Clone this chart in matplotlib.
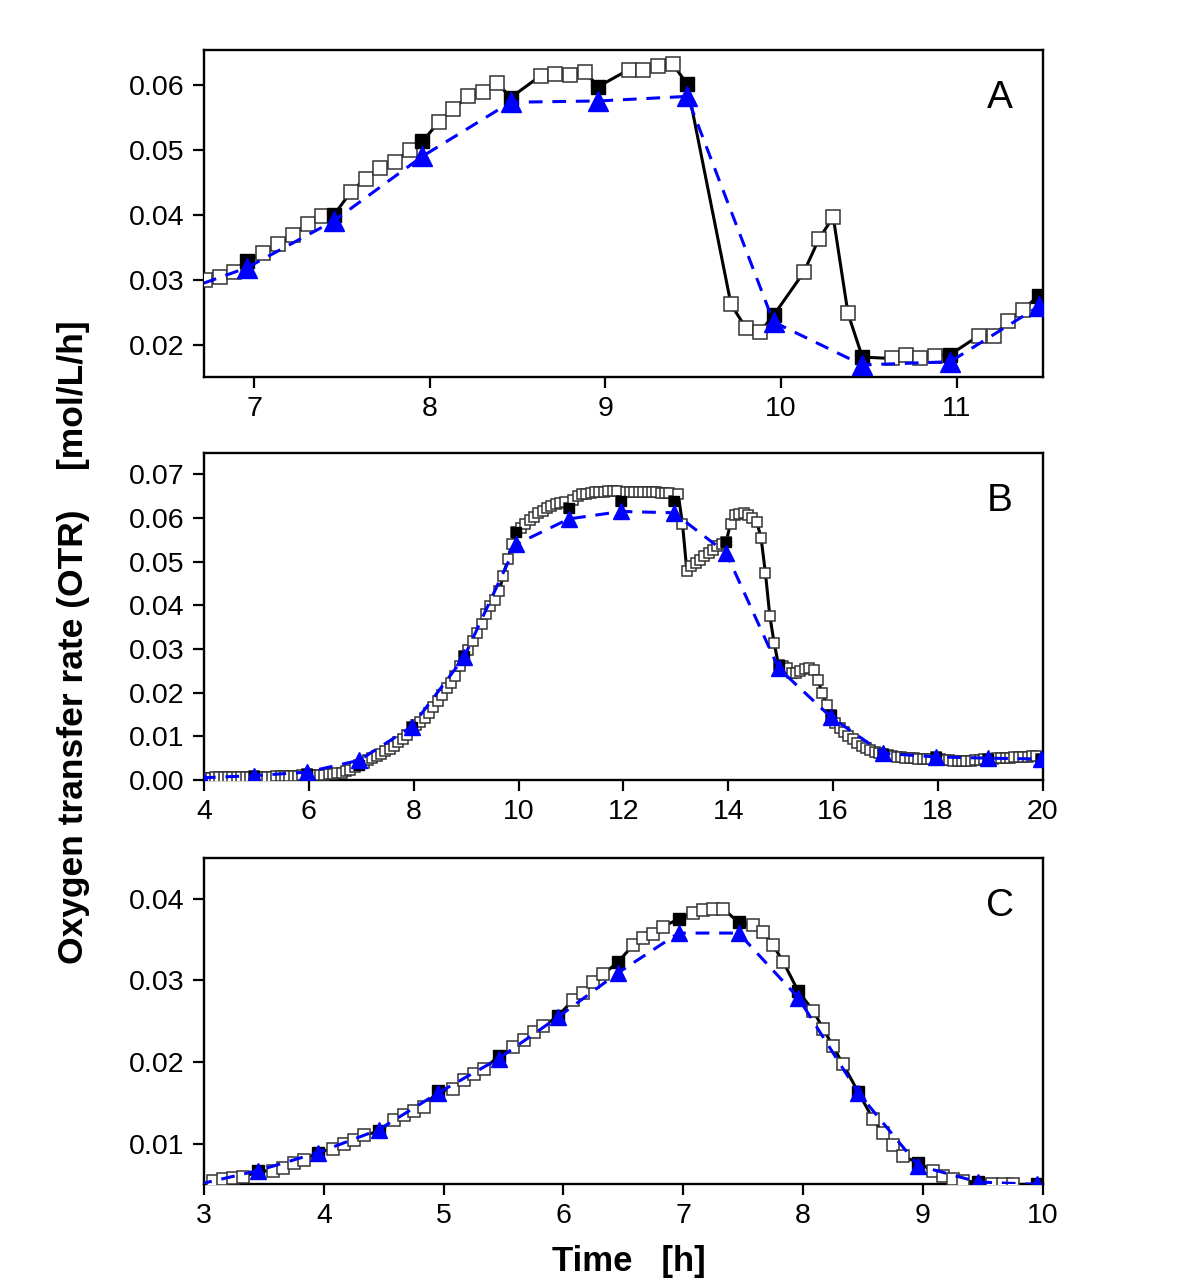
import numpy as np
import matplotlib
matplotlib.use("Agg")
import matplotlib.pyplot as plt

plt.rcParams['font.family'] = ['Liberation Sans', 'DejaVu Sans']

# ---------------- Panel A ----------------
a_open_x = [6.723, 6.805, 6.886, 7.053, 7.137, 7.223, 7.305, 7.387, 7.553, 7.635, 7.719, 7.801,
            7.885, 8.053, 8.135, 8.217, 8.301, 8.385, 8.633, 8.715, 8.799, 8.883, 9.133, 9.213,
            9.299, 9.385, 9.715, 9.799, 9.881, 10.129, 10.215, 10.297, 10.381, 10.629, 10.711,
            10.793, 10.879, 11.127, 11.211, 11.293, 11.375]
a_open_y = [0.0300, 0.0305, 0.0313, 0.0341, 0.0355, 0.0369, 0.0387, 0.0399, 0.0436, 0.0456, 0.0472, 0.0481,
            0.0500, 0.0543, 0.0563, 0.0582, 0.0589, 0.0603, 0.0614, 0.0616, 0.0615, 0.0620, 0.0623, 0.0623,
            0.0628, 0.0631, 0.0263, 0.0227, 0.0221, 0.0312, 0.0363, 0.0397, 0.0249, 0.0180, 0.0185,
            0.0180, 0.0184, 0.0215, 0.0215, 0.0237, 0.0255]
a_black_x = [6.958, 7.454, 7.958, 8.460, 8.959, 9.465, 9.957, 10.463, 10.963, 11.468]
a_black_y = [0.0330, 0.0400, 0.0513, 0.0580, 0.0597, 0.0601, 0.0246, 0.0182, 0.0186, 0.0276]
a_tri_x = [6.458, 6.958, 7.454, 7.958, 8.460, 8.959, 9.465, 9.957, 10.463, 10.963, 11.468]
a_tri_y = [0.0271, 0.0319, 0.0391, 0.0490, 0.0573, 0.0575, 0.0582, 0.0236, 0.0170, 0.0175, 0.0260]

# ---------------- Panel B ----------------
b_start = 3.96   # first 5-min sample [h]
b_open_y = [
    # 3.96 - 4.88
    0.0005, 0.0005, 0.0005, 0.0006, 0.0006, 0.0006, 0.0006, 0.0007, 0.0007, 0.0007, 0.0007, 0.0008,
    # 4.96 - 5.88
    0.0009, 0.0008, 0.0008, 0.0008, 0.0008, 0.0009, 0.0009, 0.0009, 0.0009, 0.0010, 0.0010, 0.0011,
    # 5.96 - 6.88
    0.0013, 0.0011, 0.0011, 0.0012, 0.0012, 0.0013, 0.0014, 0.0015, 0.0017, 0.0020, 0.0024, 0.0029,
    # 6.96 - 7.88
    0.0035, 0.0040, 0.0045, 0.0050, 0.0055, 0.0060, 0.0066, 0.0072, 0.0079, 0.0086, 0.0094, 0.0103,
    # 7.96 - 8.88
    0.0122, 0.0126, 0.0133, 0.0142, 0.0154, 0.0168, 0.0181, 0.0195, 0.0210, 0.0222, 0.0238, 0.0262,
    # 8.96 - 9.88
    0.0284, 0.0298, 0.0318, 0.0336, 0.0357, 0.0381, 0.0399, 0.0412, 0.0432, 0.0468, 0.0505, 0.0540,
    # 9.96 - 10.88
    0.0569, 0.0577, 0.0587, 0.0595, 0.0603, 0.0612, 0.0617, 0.0622, 0.0627, 0.0631, 0.0634, 0.0637,
    # 10.96 - 11.88
    0.0623, 0.0641, 0.0650, 0.0654, 0.0656, 0.0658, 0.0659, 0.0660, 0.0660, 0.0661, 0.0661, 0.0661,
    # 11.96 - 12.88
    0.0638, 0.0660, 0.0660, 0.0660, 0.0660, 0.0660, 0.0659, 0.0659, 0.0659, 0.0658, 0.0658, 0.0658,
    # 12.96 - 13.88
    0.0638, 0.0656, 0.0587, 0.0479, 0.0489, 0.0497, 0.0504, 0.0512, 0.0520, 0.0527, 0.0535, 0.0540,
    # 13.96 - 14.88
    0.0546, 0.0587, 0.0607, 0.0610, 0.0611, 0.0607, 0.0600, 0.0592, 0.0554, 0.0473, 0.0375, 0.0313,
    # 14.96 - 15.88
    0.0263, 0.0260, 0.0257, 0.0246, 0.0246, 0.0250, 0.0254, 0.0256, 0.0252, 0.0228, 0.0200, 0.0172,
    # 15.96 - 16.88
    0.0150, 0.0131, 0.0118, 0.0109, 0.0101, 0.0093, 0.0085, 0.0079, 0.0074, 0.0068, 0.0064, 0.0061,
    # 16.96 - 17.88
    0.0060, 0.0057, 0.0055, 0.0053, 0.0052, 0.0051, 0.0050, 0.0050, 0.0049, 0.0049, 0.0048, 0.0048,
    # 17.96 - 18.88
    0.0052, 0.0047, 0.0046, 0.0045, 0.0044, 0.0043, 0.0043, 0.0043, 0.0044, 0.0045, 0.0046, 0.0047,
    # 18.96 - 19.88
    0.0048, 0.0049, 0.0050, 0.0050, 0.0051, 0.0051, 0.0052, 0.0052, 0.0053, 0.0053, 0.0054, 0.0054,
    # 19.96
    0.0048,
]
b_black_x = [4.96, 5.96, 6.96, 7.96, 8.96, 9.96, 10.96, 11.96, 12.96, 13.96, 14.96, 15.96, 16.96, 17.96, 18.96, 19.96]
b_black_y = [0.0009, 0.0013, 0.0035, 0.0122, 0.0284, 0.0569, 0.0623, 0.0638, 0.0638, 0.0546, 0.0263, 0.0150,
             0.0060, 0.0052, 0.0048, 0.0048]
b_tri_x = [3.96, 4.96, 5.96, 6.96, 7.96, 8.96, 9.96, 10.96, 11.96, 12.96, 13.96, 14.96, 15.96, 16.96, 17.96, 18.96, 19.96]
b_tri_y = [0.0005, 0.0010, 0.0018, 0.0045, 0.0122, 0.0281, 0.0540, 0.0598, 0.0615, 0.0612, 0.0520, 0.0256, 0.0144,
           0.0061, 0.0053, 0.0050, 0.0048]

# ---------------- Panel C ----------------
c_open_x = [3.072, 3.161, 3.244, 3.328, 3.578, 3.661, 3.750, 3.833, 4.078, 4.167, 4.250, 4.333,
            4.583, 4.667, 4.750, 4.833, 5.078, 5.169, 5.250, 5.333, 5.578, 5.667, 5.750, 5.833,
            6.078, 6.161, 6.250, 6.333, 6.578, 6.661, 6.744, 6.828, 7.083, 7.161, 7.250, 7.333,
            7.583, 7.667, 7.750, 7.833, 8.083, 8.167, 8.250, 8.333, 8.583, 8.667, 8.750, 8.833,
            9.083, 9.167, 9.250, 9.333, 9.578, 9.667, 9.750]
c_open_y = [0.0054, 0.0057, 0.0058, 0.0059, 0.0067, 0.0070, 0.0076, 0.0080, 0.0094, 0.0100, 0.0104, 0.0110,
            0.0129, 0.0135, 0.0140, 0.0145, 0.0167, 0.0178, 0.0185, 0.0191, 0.0218, 0.0227, 0.0237, 0.0244,
            0.0276, 0.0285, 0.0298, 0.0308, 0.0343, 0.0352, 0.0357, 0.0366, 0.0382, 0.0386, 0.0388, 0.0388,
            0.0368, 0.0359, 0.0343, 0.0323, 0.0263, 0.0241, 0.0219, 0.0197, 0.0130, 0.0113, 0.0098, 0.0085,
            0.0067, 0.0060, 0.0057, 0.0054, 0.0050, 0.0051, 0.0050]
c_black_x = [3.453, 3.953, 4.458, 4.953, 5.458, 5.953, 6.453, 6.961, 7.461, 7.958, 8.461, 8.961, 9.458, 9.953]
c_black_y = [0.0066, 0.0089, 0.0115, 0.0164, 0.0207, 0.0256, 0.0322, 0.0375, 0.0371, 0.0287, 0.0163, 0.0076,
             0.0053, 0.0050]
c_tri_x = [2.953, 3.453, 3.953, 4.458, 4.953, 5.458, 5.953, 6.453, 6.961, 7.461, 7.958, 8.461, 8.961, 9.458, 9.953]
c_tri_y = [0.0050, 0.0067, 0.0089, 0.0117, 0.0162, 0.0204, 0.0255, 0.0309, 0.0358, 0.0358, 0.0279, 0.0162,
           0.0073, 0.0053, 0.0050]

panel_labels = ["A", "B", "C"]
ylabel_text = "Oxygen transfer rate (OTR)    [mol/L/h]"
xlabel_text = "Time   [h]"

fig = plt.figure(figsize=(12, 12.85), dpi=100)
L, W = 0.170, 0.699
axA = fig.add_axes([L, 0.7066, W, 0.2544])
axB = fig.add_axes([L, 0.3930, W, 0.2545])
axC = fig.add_axes([L, 0.0786, W, 0.2537])

BLUE = '#0000ff'


def draw(ax, ox, oy, bx, by, tx, ty, ms_open, ms_tri):
    # merge open & black for solid line
    xs = np.concatenate([np.asarray(ox), np.asarray(bx)])
    ys = np.concatenate([np.asarray(oy), np.asarray(by)])
    order = np.argsort(xs)
    ax.plot(xs[order], ys[order], '-', color='black', lw=2.2, zorder=2)
    ax.plot(ox, oy, 's', ms=ms_open, mfc='white', mec='#333333', mew=1.1, ls='none', zorder=3)
    ax.plot(bx, by, 's', ms=ms_open, mfc='black', mec='black', mew=1.0, ls='none', zorder=4)
    ax.plot(tx, ty, '--', color=BLUE, lw=2.2, dashes=(4.5, 3.2), zorder=5)
    ax.plot(tx, ty, '^', ms=ms_tri, mfc=BLUE, mec=BLUE, ls='none', zorder=6)


draw(axA, a_open_x, a_open_y, a_black_x, a_black_y, a_tri_x, a_tri_y, 10.5, 14)
b_x = b_start + np.arange(len(b_open_y)) / 12.0
draw(axB, b_x, b_open_y, b_black_x, b_black_y, b_tri_x, b_tri_y, 7.5, 12)
draw(axC, c_open_x, c_open_y, c_black_x, c_black_y, c_tri_x, c_tri_y, 8.5, 12)

axA.set_xlim(6.715, 11.49)
axA.set_ylim(0.01515, 0.0653)
axA.set_xticks([7, 8, 9, 10, 11])
axA.set_yticks([0.02, 0.03, 0.04, 0.05, 0.06])

axB.set_xlim(4, 20)
axB.set_ylim(0.0, 0.0749)
axB.set_xticks(range(4, 21, 2))
axB.set_yticks([0.00, 0.01, 0.02, 0.03, 0.04, 0.05, 0.06, 0.07])

axC.set_xlim(3, 10)
axC.set_ylim(0.00505, 0.0450)
axC.set_xticks(range(3, 11))
axC.set_yticks([0.01, 0.02, 0.03, 0.04])

for ax, lab in zip([axA, axB, axC], panel_labels):
    ax.yaxis.set_major_formatter(matplotlib.ticker.FormatStrFormatter('%.2f'))
    ax.tick_params(axis='both', which='major', direction='out', length=8, width=1.6,
                   labelsize=20.5, top=False, right=False, pad=6)
    for s in ax.spines.values():
        s.set_linewidth(1.7)
    ax.text(0.949, 0.853, lab, transform=ax.transAxes, fontsize=28, ha='center', va='center')

fig.text(0.061, 0.5, ylabel_text, rotation=90, fontsize=25.5, fontweight='bold',
         ha='center', va='center')
fig.text(0.524, 0.018, xlabel_text, fontsize=25, fontweight='bold', ha='center', va='center')

fig.savefig('out.png', dpi=100)
